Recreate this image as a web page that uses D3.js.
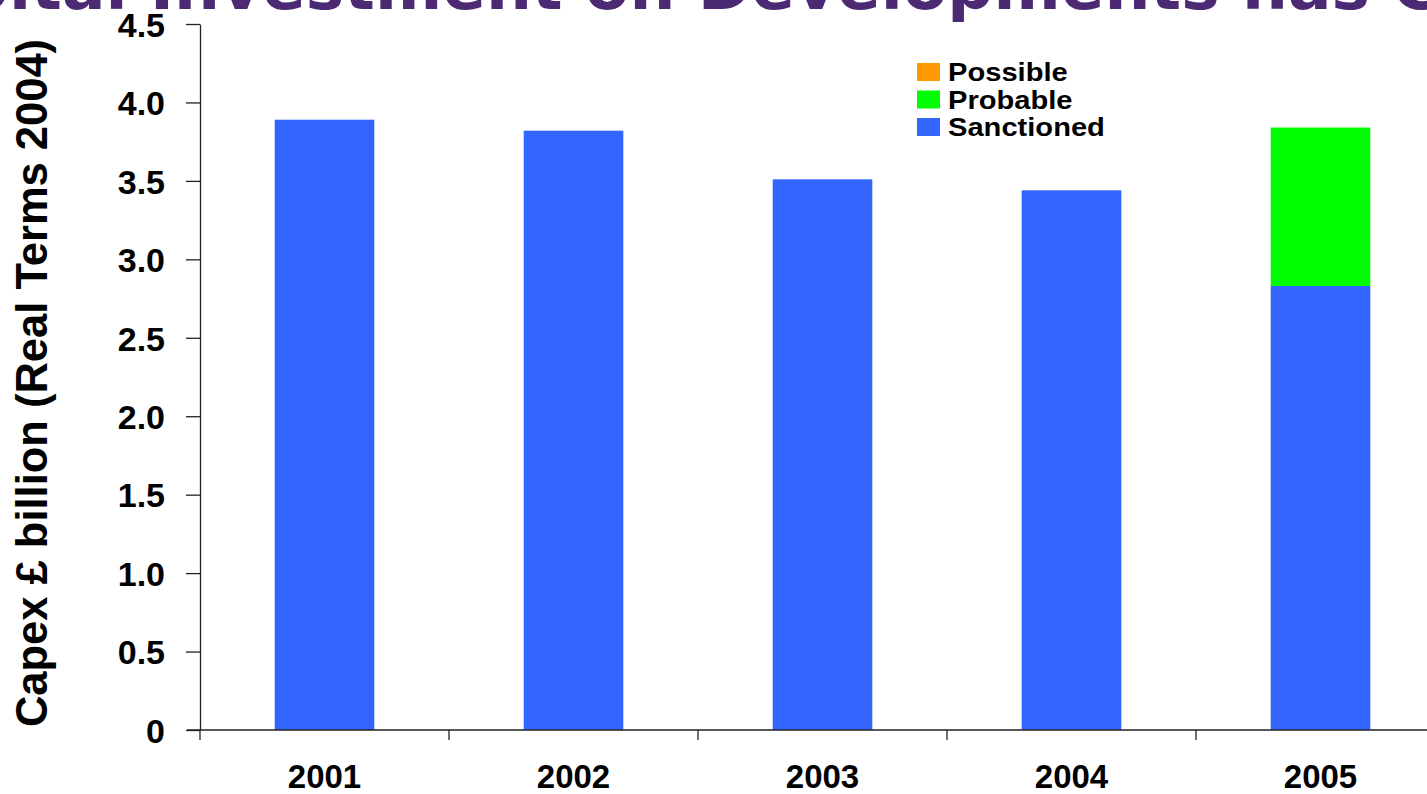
<!DOCTYPE html>
<html>
<head>
<meta charset="utf-8">
<script src="https://cdn.jsdelivr.net/npm/d3@7"></script>
<style>
  html, body { margin: 0; padding: 0; background: #fff; overflow: hidden; }
  svg { display: block; }
  text { font-family: "Liberation Sans", Arial, Helvetica, sans-serif; font-weight: bold; }
</style>
</head>
<body>
<svg id="chart" width="1427" height="794"></svg>
<script>
// Capex by year, £ billion (real terms 2004)
const years = ["2001", "2002", "2003", "2004", "2005"];
const sanctioned = [3.89, 3.82, 3.51, 3.44, 2.83];
const probable = [0, 0, 0, 0, 1.01];
const possible = [0, 0, 0, 0, 0];
const seriesNames = ["Sanctioned", "Probable", "Possible"];
const seriesColors = ["#3366ff", "#00ff00", "#ff9900"];
const yTicks = [0, 0.5, 1.0, 1.5, 2.0, 2.5, 3.0, 3.5, 4.0, 4.5];
const titleText = "Capital Investment on Developments has Continued";

const svg = d3.select("#chart");
const titleFont = "'DejaVu Sans', Verdana, sans-serif";
const titleSize = "64.5px";

const x = d3.scaleBand().domain(years).range([200, 1445]).paddingInner(0).paddingOuter(0);
const y = d3.scaleLinear().domain([0, 4.5]).range([730, 24]);

// Title (runs past the top edge)
const title = svg.append("text")
  .attr("fill", "#4b2a73")
  .style("font-family", titleFont)
  .style("font-size", titleSize)
  .attr("y", 9)
  .text(titleText);
const capW = (() => {
  const t = svg.append("text").style("font-family", titleFont)
    .style("font-size", titleSize).text("Capital\u00a0");
  const w = t.node().getComputedTextLength(); t.remove(); return w;
})();
title.attr("x", 150 - capW);

// Stacked data
const rows = years.map((yr, i) => ({ year: yr, Sanctioned: sanctioned[i], Probable: probable[i], Possible: possible[i] }));
const stack = d3.stack().keys(seriesNames)(rows);
const color = d3.scaleOrdinal().domain(seriesNames).range(seriesColors);

const barW = x.bandwidth() * 0.4;
svg.append("g").selectAll("g").data(stack).join("g")
  .attr("fill", d => color(d.key))
  .selectAll("rect").data(d => d).join("rect")
  .attr("x", d => x(d.data.year) + (x.bandwidth() - barW) / 2)
  .attr("width", barW)
  .attr("y", d => y(d[1]))
  .attr("height", d => y(d[0]) - y(d[1]));

// Y axis
const yAxis = svg.append("g").attr("transform", "translate(200,0)")
  .call(d3.axisLeft(y).tickValues(yTicks).tickSizeOuter(0).tickSizeInner(14).tickPadding(21)
    .tickFormat(d => d === 0 ? "0" : d3.format(".1f")(d)));
yAxis.select(".domain").attr("stroke", "#222").attr("stroke-width", 1.3);
yAxis.selectAll(".tick line").attr("stroke", "#222").attr("stroke-width", 1.3);
yAxis.selectAll(".tick text")
  .attr("fill", "#000")
  .attr("dy", "0.36em")
  .style("font-size", "34px")
  .style("font-family", null);

// X axis
const xAxis = svg.append("g").attr("transform", "translate(0,730)")
  .call(d3.axisBottom(x).tickSizeOuter(0).tickSize(0).tickFormat(""));
xAxis.select(".domain").attr("d", "M187,0H1427").attr("stroke", "#222").attr("stroke-width", 1.3);
xAxis.selectAll(".tick").remove();
xAxis.append("g").selectAll("line").data(years).join("line")
  .attr("x1", d => x(d)).attr("x2", d => x(d))
  .attr("y1", 0).attr("y2", 10)
  .attr("stroke", "#222").attr("stroke-width", 1.3);
xAxis.append("g").selectAll("text").data(years).join("text")
  .attr("text-anchor", "middle")
  .style("font-size", "33px")
  .attr("fill", "#000")
  .attr("x", d => x(d) + x.bandwidth() / 2)
  .attr("y", 58)
  .text(d => d);

// Y axis title
svg.append("text")
  .attr("text-anchor", "middle")
  .style("font-size", "43.5px")
  .attr("fill", "#000")
  .attr("transform", "translate(47,383) rotate(-90)")
  .text("Capex £ billion (Real Terms 2004)");

// Legend (top to bottom: Possible, Probable, Sanctioned)
const legendItems = seriesNames.slice().reverse();
const lg = svg.append("g").attr("transform", "translate(917,63)");
const li = lg.selectAll("g").data(legendItems).join("g")
  .attr("transform", (d, i) => `translate(0,${i * 27.5})`);
li.append("rect").attr("width", 23).attr("height", 18).attr("fill", d => color(d));
li.append("text")
  .style("font-size", "26px")
  .attr("fill", "#000")
  .attr("transform", "translate(31,18) scale(1.12,1)")
  .text(d => d);
</script>
</body>
</html>
